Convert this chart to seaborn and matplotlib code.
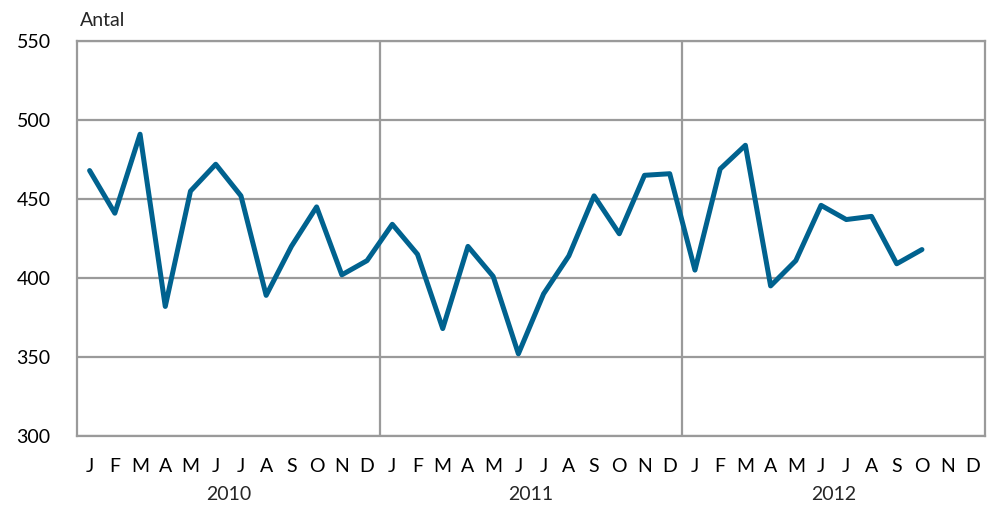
import matplotlib
matplotlib.use("Agg")
import matplotlib.pyplot as plt
import seaborn as sns
import numpy as np
import pandas as pd

# Data: monthly counts, Jan 2010 - Oct 2012
years = ["2010", "2011", "2012"]
month_letters = ["J", "F", "M", "A", "M", "J", "J", "A", "S", "O", "N", "D"]
antal_2010 = [468, 441, 491, 382, 455, 472, 452, 389, 420, 445, 402, 411]
antal_2011 = [434, 415, 368, 420, 401, 352, 390, 414, 452, 428, 465, 466]
antal_2012 = [405, 469, 484, 395, 411, 446, 437, 439, 409, 418]

values = antal_2010 + antal_2011 + antal_2012
df = pd.DataFrame({"month": np.arange(len(values)), "antal": values})

sns.set_style("white")
plt.rcParams["font.family"] = ["Lato", "DejaVu Sans"]

fig = plt.figure(figsize=(9.98, 5.05), dpi=100)
ax = fig.add_axes([77 / 998, 1 - 436 / 505, (985 - 77) / 998, (436 - 41) / 505])

sns.lineplot(data=df, x="month", y="antal", ax=ax, color="#00628f",
             linewidth=3.6, solid_joinstyle="round")

grid_col = "#9a9a9a"
n_months = 12 * len(years)
ax.set_xlim(-0.5, n_months - 0.5)
ax.set_ylim(300, 550)
ax.set_yticks(np.arange(300, 551, 50))
ax.set_xticks(np.arange(n_months))
ax.set_xticklabels(month_letters * len(years))
ax.set_xticks([11.5, 23.5], minor=True)
ax.grid(axis="y", which="major", color=grid_col, linewidth=1.6)
ax.grid(axis="x", which="minor", color=grid_col, linewidth=1.6)
ax.grid(axis="x", which="major", visible=False)
ax.set_axisbelow(True)
for s in ax.spines.values():
    s.set_color(grid_col)
    s.set_linewidth(1.6)

ax.tick_params(axis="both", which="both", length=0, labelsize=14, colors="black")
ax.tick_params(axis="x", pad=16)
ax.tick_params(axis="y", pad=19)
ax.set_xlabel("")
ax.set_ylabel("")

for i, yr in enumerate(years):
    ax.annotate(yr, xy=(12 * i + 5.5, 0), xycoords=("data", "axes fraction"),
                xytext=(0, -42), textcoords="offset points",
                ha="center", va="center", fontsize=14)

ax.annotate("Antal", xy=(0, 1), xycoords="axes fraction",
            xytext=(2, 15), textcoords="offset points",
            ha="left", va="center", fontsize=14)

fig.savefig("out.png", dpi=100)
